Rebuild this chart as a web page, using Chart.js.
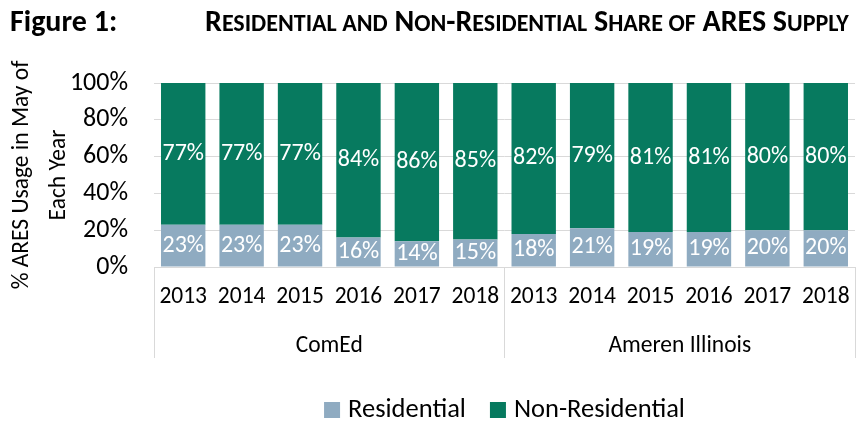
<!DOCTYPE html>
<html>
<head>
<meta charset="utf-8">
<script src="https://cdn.jsdelivr.net/npm/chart.js@4"></script>
<style>
  body { margin: 0; background: #fff; }
  #wrap { position: relative; width: 857px; height: 421px; }
  .ttl { position: absolute; top: 6px; line-height: 1; font-family: Carlito, Lato, sans-serif; font-weight: bold; font-size: 30px; color: #000; white-space: nowrap; }
  #fig { left: 10px; }
  #name { left: 205px; }
  .sc { text-transform: uppercase; font-size: 0.8em; }
  canvas { position: absolute; left: 0; top: 0; }
</style>
</head>
<body>
<div id="wrap">
  <canvas id="shareChart" width="857" height="421"></canvas>
  <div class="ttl" id="fig">Figure 1:</div>
  <div class="ttl" id="name">R<span class="sc">esidential and</span> N<span class="sc">on</span>-R<span class="sc">esidential</span> S<span class="sc">hare of</span> ARES S<span class="sc">upply</span></div>
</div>
<script>
// Dữ liệu
const years = ['2013', '2014', '2015', '2016', '2017', '2018', '2013', '2014', '2015', '2016', '2017', '2018'];
const utilities = ['ComEd', 'Ameren Illinois'];
const residential = [23, 23, 23, 16, 14, 15, 18, 21, 19, 19, 20, 20];
const nonResidential = [77, 77, 77, 84, 86, 85, 82, 79, 81, 81, 80, 80];
const yTicks = [0, 20, 40, 60, 80, 100];

const FONT = 'Carlito, Lato, sans-serif';

// Nhãn phần trăm bên trong mỗi cột
const barLabels = {
    id: 'barLabels',
    afterDatasetsDraw(chart) {
        const ctx = chart.ctx;
        ctx.save();
        ctx.font = '24px ' + FONT;
        ctx.fillStyle = '#fff';
        ctx.textAlign = 'center';
        ctx.textBaseline = 'middle';
        chart.data.datasets.forEach((ds, i) => {
            chart.getDatasetMeta(i).data.forEach((bar, j) => {
                ctx.fillText(ds.data[j] + '%', bar.x, (bar.y + bar.base) / 2);
            });
        });
        ctx.restore();
    }
};

// Trục x hai tầng: năm + tên công ty, có đường phân cách
const groupAxis = {
    id: 'groupAxis',
    afterDraw(chart) {
        const ctx = chart.ctx;
        const x = chart.scales.x;
        const area = chart.chartArea;
        const half = (x.getPixelForValue(1) - x.getPixelForValue(0)) / 2;
        const bottom = area.bottom + 91;
        ctx.save();
        ctx.strokeStyle = '#d9d9d9';
        ctx.lineWidth = 1;
        ctx.beginPath();
        ctx.moveTo(area.left, area.bottom + 0.5);
        ctx.lineTo(area.right, area.bottom + 0.5);
        [0, 6, 12].forEach(k => {
            const px = Math.round(x.getPixelForValue(k) - half) + 0.5;
            ctx.moveTo(px, area.bottom);
            ctx.lineTo(px, bottom);
        });
        ctx.stroke();

        ctx.font = '23.5px ' + FONT;
        ctx.fillStyle = '#000';
        ctx.textAlign = 'center';
        ctx.textBaseline = 'middle';
        years.forEach((y, k) => {
            ctx.fillText(y, x.getPixelForValue(k), area.bottom + 30);
        });
        utilities.forEach((u, g) => {
            const cx = (x.getPixelForValue(g * 6) + x.getPixelForValue(g * 6 + 5)) / 2;
            ctx.fillText(u, cx, area.bottom + 79);
        });
        ctx.restore();
    }
};

// Chú thích tự vẽ để đặt đúng vị trí như bản gốc
const bottomLegend = {
    id: 'bottomLegend',
    afterDraw(chart) {
        const ctx = chart.ctx;
        const area = chart.chartArea;
        const box = 16, gapText = 8, gapItem = 24;
        const y = 410;
        ctx.save();
        ctx.font = '26.5px ' + FONT;
        ctx.textBaseline = 'middle';
        const items = chart.data.datasets.map(ds => ({
            text: ds.label, color: ds.backgroundColor, w: ctx.measureText(ds.label).width
        }));
        const total = items.reduce((s, it) => s + box + gapText + it.w, 0) + gapItem * (items.length - 1);
        let x = (area.left + area.right) / 2 - total / 2;
        items.forEach(it => {
            ctx.fillStyle = it.color;
            ctx.fillRect(x, y - box / 2, box, box);
            x += box + gapText;
            ctx.fillStyle = '#000';
            ctx.fillText(it.text, x, y);
            x += it.w + gapItem;
        });
        ctx.restore();
    }
};

new Chart(document.getElementById('shareChart'), {
    type: 'bar',
    data: {
        labels: years.map((y, i) => (i < 6 ? utilities[0] : utilities[1]) + ' ' + y),
        datasets: [{
            label: 'Residential',
            data: residential,
            backgroundColor: '#8FABC1',
            borderWidth: 0
        }, {
            label: 'Non-Residential',
            data: nonResidential,
            backgroundColor: '#077A5F',
            borderWidth: 0
        }]
    },
    options: {
        responsive: false,
        animation: false,
        layout: { padding: { left: 4, top: 83, right: 2, bottom: 63 } },
        plugins: {
            legend: { display: false },
            tooltip: { enabled: false }
        },
        datasets: { bar: { categoryPercentage: 1, barPercentage: 0.76 } },
        scales: {
            x: {
                stacked: true,
                grid: { display: false },
                border: { display: false },
                ticks: { display: false },
                afterFit: s => { s.height = 91; }
            },
            y: {
                stacked: true,
                min: 0,
                max: 100,
                afterBuildTicks: s => { s.ticks = yTicks.map(v => ({ value: v })); },
                afterFit: s => { s.width = 150; },
                grid: { color: '#d9d9d9', drawTicks: false },
                border: { display: false },
                ticks: {
                    padding: 26,
                    color: '#000',
                    font: { size: 26, family: FONT },
                    callback: v => v + '%'
                },
                title: {
                    display: true,
                    text: ['% ARES Usage in May of', 'Each Year'],
                    color: '#000',
                    font: { size: 23.5, family: FONT, lineHeight: 1.55 },
                    padding: 0
                }
            }
        }
    },
    plugins: [barLabels, groupAxis, bottomLegend]
});
</script>
</body>
</html>
